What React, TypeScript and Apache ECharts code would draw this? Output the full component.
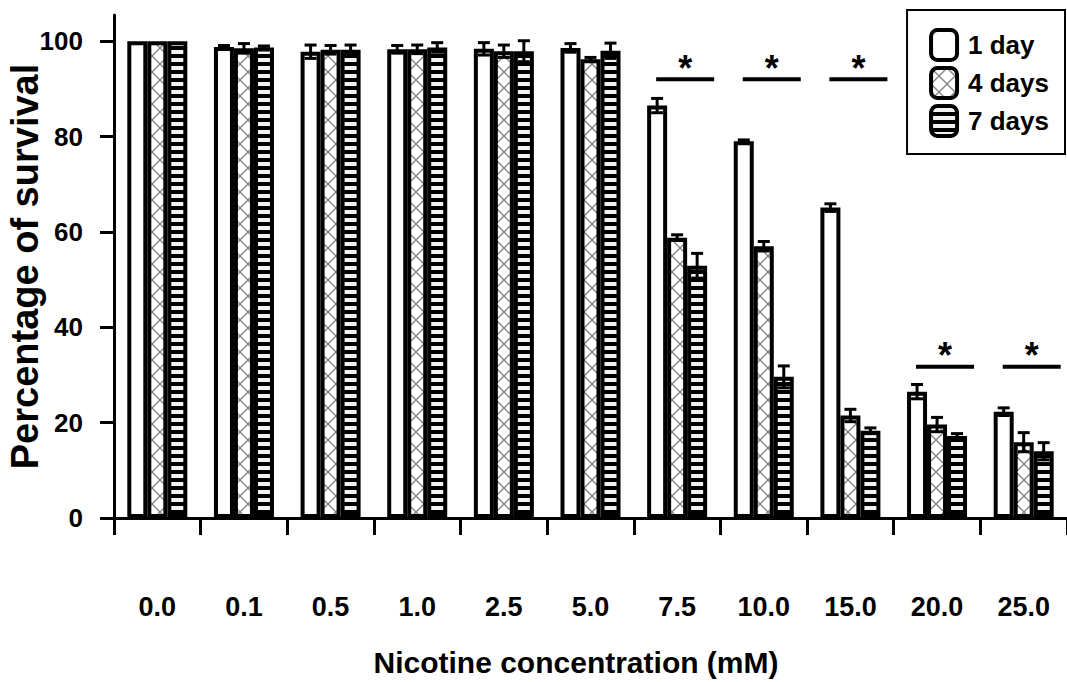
import React, { useEffect, useRef } from 'react';
import * as echarts from 'echarts';

const categories = ['0.0', '0.1', '0.5', '1.0', '2.5', '5.0', '7.5', '10.0', '15.0', '20.0', '25.0'];
const seriesNames = ['1 day', '4 days', '7 days'];
const day1 = [100, 98.8, 97.8, 98.3, 98.4, 98.6, 86.5, 79.0, 65.1, 26.5, 22.3];
const day1Err = [0, 0.3, 1.4, 0.8, 1.3, 0.9, 1.5, 0.3, 0.8, 1.5, 0.8];
const day4 = [100, 98.5, 98.2, 98.3, 97.9, 96.2, 58.8, 57.0, 21.5, 19.6, 15.9];
const day4Err = [0, 1.0, 0.9, 0.9, 1.3, 0.4, 0.6, 1.0, 1.3, 1.5, 2.0];
const day7 = [100, 98.7, 98.2, 98.7, 97.9, 98.0, 52.9, 29.6, 18.3, 17.2, 14.0];
const day7Err = [0, 0.3, 1.0, 1.0, 2.2, 1.6, 2.6, 2.3, 0.6, 0.5, 1.8];
const yTicks = [0, 20, 40, 60, 80, 100];
const sigIndex = [6, 7, 8, 9, 10];
const sigLevel = [92, 92, 92, 31.7, 31.7];

const FONT = '"Liberation Sans", Arial, sans-serif';

function makeCrossHatch() {
  const c = document.createElement('canvas');
  c.width = 16;
  c.height = 16;
  const ctx = c.getContext('2d')!;
  ctx.fillStyle = '#ffffff';
  ctx.fillRect(0, 0, 16, 16);
  ctx.strokeStyle = '#808080';
  ctx.lineWidth = 1.3;
  ctx.beginPath();
  ctx.moveTo(0, 0);
  ctx.lineTo(16, 16);
  ctx.moveTo(16, 0);
  ctx.lineTo(0, 16);
  ctx.stroke();
  return c;
}

function makeStripes() {
  const c = document.createElement('canvas');
  c.width = 8;
  c.height = 8;
  const ctx = c.getContext('2d')!;
  ctx.fillStyle = '#000000';
  ctx.fillRect(0, 0, 8, 8);
  ctx.fillStyle = '#f2f2f2';
  ctx.fillRect(0, 2, 8, 4);
  return c;
}

export default function App() {
  const ref = useRef<HTMLDivElement>(null);

  useEffect(() => {
    document.body.style.margin = '0';
    if (!ref.current) return;
    const chart = echarts.init(ref.current, undefined, { renderer: 'svg' });

    const hatch = makeCrossHatch();
    const stripes = makeStripes();
    const fills: any[] = [
      '#ffffff',
      { image: hatch, repeat: 'repeat', imageWidth: 16, imageHeight: 16 },
      { image: stripes, repeat: 'repeat', imageWidth: 8, imageHeight: 8 },
    ];
    const values = [day1, day4, day7];
    const errs = [day1Err, day4Err, day7Err];
    const barW = 20;

    const barSeries = seriesNames.map((name, i) => ({
      name,
      type: 'bar',
      data: values[i],
      barWidth: barW,
      barGap: '0%',
      itemStyle: { color: fills[i], borderColor: '#000', borderWidth: 4 },
      emphasis: { disabled: true },
      z: 2,
    }));

    const errSeries = seriesNames.map((name, i) => ({
      name: name + ' err',
      type: 'custom',
      z: 5,
      silent: true,
      data: values[i].map((v, k) => [k, v, errs[i][k]]),
      renderItem: (params: any, api: any) => {
        const idx = api.value(0);
        const v = api.value(1);
        const e = api.value(2);
        if (!e) return null;
        const c = api.coord([idx, v]);
        const x = c[0] + (i - 1) * barW;
        const hi = api.coord([idx, v + e])[1];
        const lo = api.coord([idx, v - e])[1];
        const st = { stroke: '#000', lineWidth: 3 };
        return {
          type: 'group',
          children: [
            { type: 'line', shape: { x1: x, y1: hi, x2: x, y2: lo }, style: st },
            { type: 'line', shape: { x1: x - 6, y1: hi, x2: x + 6, y2: hi }, style: st },
            { type: 'line', shape: { x1: x - 6, y1: lo, x2: x + 6, y2: lo }, style: st },
          ],
        };
      },
    }));

    const sigSeries = {
      name: 'significance',
      type: 'custom',
      z: 6,
      silent: true,
      data: sigIndex.map((k, j) => [k, sigLevel[j]]),
      renderItem: (params: any, api: any) => {
        const c = api.coord([api.value(0), api.value(1)]);
        const cx = c[0] + 8;
        const y = c[1];
        return {
          type: 'group',
          children: [
            { type: 'line', shape: { x1: cx - 29, y1: y, x2: cx + 29, y2: y }, style: { stroke: '#000', lineWidth: 4 } },
            {
              type: 'text',
              x: cx,
              y: y - 29,
              style: { text: '*', font: 'bold 36px ' + FONT, textAlign: 'center', textVerticalAlign: 'top', fill: '#000' },
            },
          ],
        };
      },
    };

    const axisLine = { show: true, lineStyle: { color: '#000', width: 3 } };
    const labelStyle = { color: '#000', fontWeight: 'bold', fontFamily: FONT };

    const option: any = {
      animation: false,
      backgroundColor: '#ffffff',
      grid: { left: 114, right: 0, top: 15, bottom: 164, containLabel: false, outerBoundsMode: 'none' },
      legend: {
        orient: 'vertical',
        right: 2,
        top: 10,
        data: seriesNames,
        itemWidth: 26,
        itemHeight: 30,
        itemGap: 4,
        padding: [18, 16, 16, 22],
        borderColor: '#000',
        borderWidth: 2,
        backgroundColor: '#fff',
        selectedMode: false,
        itemStyle: { borderWidth: 4, borderColor: '#000' },
        textStyle: { fontSize: 26, fontWeight: 'bold', color: '#000', fontFamily: FONT, padding: [0, 0, 0, 6] },
      },
      xAxis: {
        type: 'category',
        data: categories,
        boundaryGap: true,
        axisLine,
        axisTick: { show: true, length: 17, lineStyle: { color: '#000', width: 3 } },
        axisLabel: { ...labelStyle, fontSize: 27, margin: 75, interval: 0 },
        splitLine: { show: false },
      },
      yAxis: {
        type: 'value',
        min: 0,
        max: 105.5,
        axisLine,
        splitLine: { show: false },
        axisTick: { show: true, length: 14, lineStyle: { color: '#000', width: 3 }, customValues: yTicks },
        axisLabel: { ...labelStyle, fontSize: 26, margin: 31, customValues: yTicks },
        name: 'Percentage of survival',
        nameLocation: 'middle',
        nameGap: 70,
        nameMoveOverlap: false,
        nameTextStyle: { color: '#000', fontWeight: 'bold', fontSize: 38, fontFamily: FONT },
      },
      graphic: [
        {
          type: 'text',
          x: 576,
          y: 662,
          style: {
            text: 'Nicotine concentration (mM)',
            font: 'bold 30px ' + FONT,
            textAlign: 'center',
            textVerticalAlign: 'middle',
            fill: '#000',
          },
        },
      ],
      series: [...barSeries, ...errSeries, sigSeries],
    };

    chart.setOption(option);
    return () => chart.dispose();
  }, []);

  return <div ref={ref} style={{ width: 1067, height: 682 }} />;
}
